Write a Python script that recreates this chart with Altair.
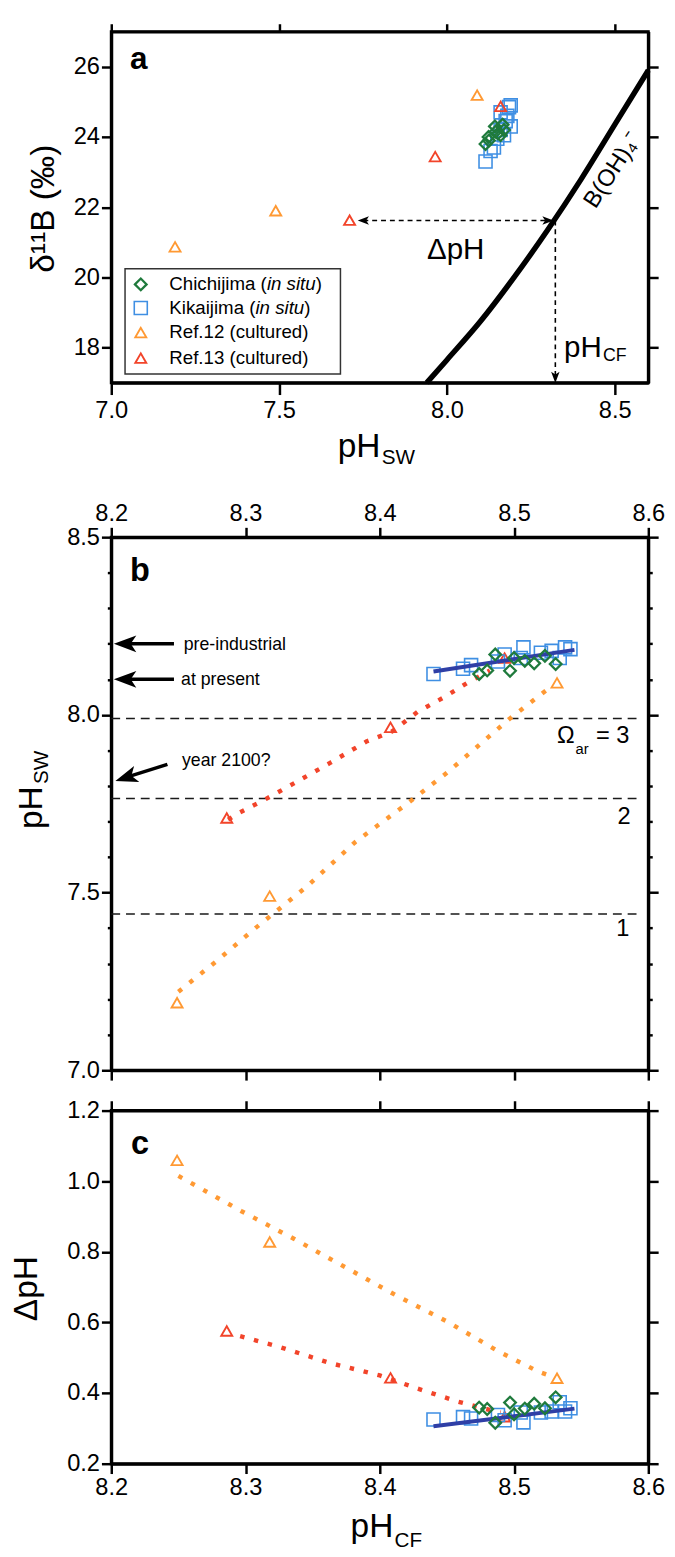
import altair as alt
import pandas as pd

# ---------------- data ----------------
# panel a: borate curve
curve_ph = [7.94, 8.00, 8.10, 8.20, 8.30, 8.40, 8.50, 8.60]
curve_d11b = [17.0, 17.65, 18.75, 20.0, 21.35, 22.8, 24.35, 25.9]

# cultured corals
ref12_phsw = [7.19, 7.49, 8.09]
ref12_d11b = [20.87, 21.90, 25.19]
ref12_phcf = [8.249, 8.318, 8.532]

ref13_phsw = [7.71, 7.965, 8.16]
ref13_d11b = [21.63, 23.44, 24.87]
ref13_phcf = [8.286, 8.408, 8.493]

# in situ corals
kik_phsw = [8.115, 8.130, 8.140, 8.150, 8.170, 8.160, 8.190, 8.175, 8.180, 8.160, 8.185, 8.190]
kik_phcf = [8.440, 8.462, 8.468, 8.488, 8.493, 8.505, 8.507, 8.520, 8.528, 8.534, 8.542, 8.538]
kik_d11b = [23.30, 23.60, 23.70, 23.95, 24.05, 24.20, 24.30, 24.45, 24.60, 24.70, 24.85, 24.90]

chi_phsw = [8.115, 8.125, 8.170, 8.124, 8.152, 8.145, 8.166, 8.143, 8.160]
chi_phcf = [8.474, 8.480, 8.486, 8.497, 8.508, 8.515, 8.523, 8.531, 8.500]
chi_d11b = [23.80, 23.90, 24.20, 24.00, 24.10, 24.15, 24.35, 24.30, 24.05]

# panel b dotted model lines
b_orange_x = [8.250, 8.278, 8.307, 8.345, 8.382, 8.420, 8.450, 8.477, 8.497, 8.527]
b_orange_y = [7.221, 7.306, 7.399, 7.515, 7.643, 7.749, 7.837, 7.925, 7.990, 8.078]
b_red_x = [8.287, 8.296, 8.315, 8.335, 8.363, 8.390, 8.409, 8.428, 8.448, 8.466, 8.482]
b_red_y = [7.705, 7.726, 7.763, 7.805, 7.865, 7.925, 7.953, 8.008, 8.050, 8.092, 8.125]
# panel c dotted model lines
c_orange_x = [8.250, 8.297, 8.336, 8.374, 8.412, 8.450, 8.488, 8.518, 8.526]
c_orange_y = [1.015, 0.915, 0.837, 0.757, 0.677, 0.603, 0.519, 0.461, 0.450]
c_red_x = [8.296, 8.325, 8.363, 8.400, 8.428, 8.458, 8.477, 8.490]
c_red_y = [0.561, 0.531, 0.485, 0.450, 0.413, 0.376, 0.357, 0.345]
# regression lines (in situ)
fit_x = [8.44, 8.545]
fit_b_y = [8.122, 8.183]
fit_c_y = [0.306, 0.356]
# saturation state levels
omega_y = [7.99, 7.765, 7.44]
omega_x = [8.2, 8.593]

# ---------------- style ----------------
W = 546
HA, HB, HC = 357, 542, 359
FONT = "Liberation Sans"
ORANGE = "#ff9933"
RED = "#f2442a"
GREEN = "#1f7a3c"
BLUE_SQ = "#3f8fe3"
BLUE_LINE = "#2f3fa6"
ARROW = "M -1 0 L 1 -0.75 L 0.5 0 L 1 0.75 Z"
TEST = "abs(datum.value*2 - round(datum.value*2)) < 0.001"


def sc(lo, hi):
    return alt.Scale(domain=[lo, hi], nice=False, zero=False)


SAX, SAY = sc(7.0, 8.6), sc(17, 27)
SBX, SBY, SCY = sc(8.2, 8.6), sc(7.0, 8.5), sc(0.2, 1.2)


def axis(orient, values, labels=True, fmt=".1f", tick=10, pad=3, **kw):
    d = dict(orient=orient, values=values, labels=labels, format=fmt, tickSize=tick,
             tickWidth=2.5, tickColor="black", domainWidth=3, domainColor="black",
             labelFont=FONT, labelFontSize=24, labelColor="black", labelPadding=pad,
             grid=False, title=None, labelFlush=False, labelOverlap=False)
    d.update(kw)
    return alt.Axis(**d)


def X(f, s, ax=None):
    return alt.X(f, type="quantitative", scale=s, axis=ax)


def Y(f, s, ax=None):
    return alt.Y(f, type="quantitative", scale=s, axis=ax)


def ptext(t, x, y, size, **kw):
    props = dict(font=FONT, fontSize=size, color="black")
    props.update(kw)
    return alt.Chart(pd.DataFrame({"t": [t]})).mark_text(**props).encode(
        x=alt.value(x), y=alt.value(y), text="t:N")


def dtext(t, x, y, sx, sy, size, **kw):
    props = dict(font=FONT, fontSize=size, color="black")
    props.update(kw)
    return alt.Chart(pd.DataFrame({"t": [t], "x": [x], "y": [y]})).mark_text(**props).encode(
        x=X("x", sx), y=Y("y", sy), text="t:N")


rows = []
for g, sw, cf, dd in [("kik", kik_phsw, kik_phcf, kik_d11b), ("chi", chi_phsw, chi_phcf, chi_d11b),
                      ("r12", ref12_phsw, ref12_phcf, ref12_d11b), ("r13", ref13_phsw, ref13_phcf, ref13_d11b)]:
    for a, b, c in zip(sw, cf, dd):
        rows.append(dict(group=g, phsw=a, phcf=b, d11b=c))
samples = pd.DataFrame(rows)

STYLE = {
    "kik": dict(shape="square", size=175, strokeWidth=1.6, color=BLUE_SQ),
    "chi": dict(shape="diamond", size=140, strokeWidth=2.3, color=GREEN),
    "r12": dict(shape="triangle-up", size=125, strokeWidth=1.9, color=ORANGE),
    "r13": dict(shape="triangle-up", size=125, strokeWidth=1.9, color=RED),
}


def pts(group, xf, yf, sx, sy, calc=False):
    base = alt.Chart(samples).transform_filter(alt.datum.group == group)
    if calc:
        base = base.transform_calculate(dph="datum.phcf - datum.phsw")
    m = base.mark_point(filled=False, opacity=1, **STYLE[group])
    return m.encode(x=X(xf, sx), y=Y(yf, sy))


def legend_sym(group, x, y):
    return alt.Chart(pd.DataFrame({"a": [0]})).mark_point(filled=False, opacity=1, **STYLE[group]).encode(
        x=alt.value(x), y=alt.value(y))


def dotted(xs, ys, sx, sy, color):
    return alt.Chart(pd.DataFrame({"x": xs, "y": ys, "o": list(range(len(xs)))})).mark_line(
        strokeDash=[4.5, 10], strokeWidth=4.5, strokeCap="butt", color=color).encode(
        x=X("x", sx), y=Y("y", sy), order="o:Q")


# ---------------- panel a ----------------
a_curve = alt.Chart(pd.DataFrame({"ph": curve_ph, "d": curve_d11b})).mark_line(
    color="black", strokeWidth=5.5, interpolate="monotone").encode(
    x=X("ph", SAX, axis("bottom", [7.0, 7.5, 8.0, 8.5], tick=12, pad=4)),
    y=Y("d", SAY, axis("left", [18, 20, 22, 24, 26], fmt="d", pad=2)))
a_frame = alt.Chart(pd.DataFrame({"x": [7.5], "y": [20.0]})).mark_point(opacity=0).encode(
    x=X("x", SAX, axis("top", [7.0, 7.5, 8.0, 8.5], labels=False, tick=8)),
    y=Y("y", SAY, axis("right", [18, 20, 22, 24, 26], labels=False)))

a_shafts = alt.Chart(pd.DataFrame({"x": [7.751, 8.323], "x2": [8.301, 8.323],
                                   "y": [21.62, 21.62], "y2": [21.62, 17.154]})).mark_rule(
    strokeDash=[5, 4], strokeWidth=1.6, color="black").encode(
    x=X("x", SAX), x2="x2:Q", y=Y("y", SAY), y2="y2:Q")
a_heads = alt.Chart(pd.DataFrame({"x": [7.751, 8.301, 8.323], "y": [21.62, 21.62, 17.154],
                                  "ang": [0, 180, 270]})).mark_point(
    shape=ARROW, filled=True, size=130, color="black", opacity=1, strokeWidth=0).encode(
    x=X("x", SAX), y=Y("y", SAY), angle=alt.Angle("ang:Q", scale=None))

LX, LY = 59, [257, 281, 306, 332]
a_legend = [
    alt.Chart(pd.DataFrame({"a": [0]})).mark_rect(fill="white", stroke="#333333", strokeWidth=1.5).encode(
        x=alt.value(14), x2=alt.value(233), y=alt.value(241), y2=alt.value(348)),
    legend_sym("chi", 30, LY[0]), legend_sym("kik", 30, LY[1]),
    legend_sym("r12", 30, LY[2]), legend_sym("r13", 30, LY[3]),
    ptext("Chichijima (", LX, LY[0], 19, align="left"),
    ptext("in situ", LX + 99.2, LY[0], 19, align="left", fontStyle="italic"),
    ptext(")", LX + 148.8, LY[0], 19, align="left"),
    ptext("Kikaijima (", LX, LY[1], 19, align="left"),
    ptext("in situ", LX + 87.6, LY[1], 19, align="left", fontStyle="italic"),
    ptext(")", LX + 137.2, LY[1], 19, align="left"),
    ptext("Ref.12 (cultured)", LX, LY[2], 19, align="left"),
    ptext("Ref.13 (cultured)", LX, LY[3], 19, align="left"),
]

a_texts = [
    ptext("a", 19, 38, 32, align="left", baseline="alphabetic", fontWeight="bold"),
    dtext("ΔpH", 8.026, 20.77, SAX, SAY, 30),
    dtext("pH", 8.349, 17.98, SAX, SAY, 30, align="left"),
    dtext("CF", 8.465, 17.76, SAX, SAY, 18, align="left"),
    dtext("B(OH)₄⁻", 8.494, 23.05, SAX, SAY, 24, angle=303),
    ptext("δ¹¹B (‰)", -68, 180, 34, angle=270),
    ptext("pH", 252, 422, 34),
    ptext("SW", 275, 434, 21, align="left"),
    alt.Chart(pd.DataFrame({"a": [0]})).mark_point(opacity=0).encode(x=alt.value(5), y=alt.value(458)),
]

panel_a = alt.layer(
    a_curve, a_frame, a_shafts, a_heads,
    pts("kik", "phsw", "d11b", SAX, SAY), pts("chi", "phsw", "d11b", SAX, SAY),
    pts("r12", "phsw", "d11b", SAX, SAY), pts("r13", "phsw", "d11b", SAX, SAY),
    *a_legend, *a_texts,
).resolve_axis(x="independent", y="independent").properties(width=W, height=HA)

# ---------------- panel b ----------------
vals_b = [7.0, 7.1, 7.2, 7.3, 7.4, 7.5, 7.6, 7.7, 7.8, 7.9, 8.0, 8.1, 8.2, 8.3, 8.4, 8.5]
vals_x = [8.2, 8.3, 8.4, 8.5, 8.6]
tick_b = {"condition": {"test": TEST, "value": 10}, "value": 4}
b_frame1 = alt.Chart(pd.DataFrame({"x": [8.3], "y": [7.5]})).mark_point(opacity=0).encode(
    x=X("x", SBX, axis("top", vals_x, pad=2)),
    y=Y("y", SBY, axis("left", vals_b, pad=2, tickSize=tick_b,
                      labelExpr=TEST + " ? format(datum.value, '.1f') : ''")))
b_frame2 = alt.Chart(pd.DataFrame({"x": [8.3], "y": [7.5]})).mark_point(opacity=0).encode(
    x=X("x", SBX, axis("bottom", vals_x, labels=False)),
    y=Y("y", SBY, axis("right", vals_b, labels=False, tickSize=tick_b)))

b_omega = alt.Chart(pd.DataFrame({"y": omega_y, "x": [omega_x[0]] * 3, "x2": [omega_x[1]] * 3})).mark_rule(
    strokeDash=[9, 6], strokeWidth=1.5, color="#1a1a1a").encode(x=X("x", SBX), x2="x2:Q", y=Y("y", SBY))

b_shafts = alt.Chart(pd.DataFrame({"x": [8.2103, 8.2103, 8.211], "x2": [8.2467, 8.2467, 8.2418],
                                   "y": [8.2, 8.1, 7.824], "y2": [8.2, 8.1, 7.861]})).mark_rule(
    strokeWidth=3.5, color="black").encode(x=X("x", SBX), x2="x2:Q", y=Y("y", SBY), y2="y2:Q")
b_heads = alt.Chart(pd.DataFrame({"x": [8.2103, 8.2103, 8.211], "y": [8.2, 8.1, 7.824],
                                  "ang": [0, 0, 342]})).mark_point(
    shape=ARROW, filled=True, size=520, color="black", opacity=1, strokeWidth=0).encode(
    x=X("x", SBX), y=Y("y", SBY), angle=alt.Angle("ang:Q", scale=None))

b_fit = alt.Chart(pd.DataFrame({"x": fit_x, "y": fit_b_y})).mark_line(
    color=BLUE_LINE, strokeWidth=4).encode(x=X("x", SBX), y=Y("y", SBY))

b_texts = [
    ptext("b", 19, 45, 33, align="left", baseline="alphabetic", fontWeight="bold"),
    dtext("pre-industrial", 8.254, 8.196, SBX, SBY, 18, align="left"),
    dtext("at present", 8.252, 8.098, SBX, SBY, 18, align="left"),
    dtext("year 2100?", 8.2527, 7.869, SBX, SBY, 18, align="left"),
    dtext("Ω", 8.532, 7.94, SBX, SBY, 24, align="left"),
    dtext("ar", 8.5458, 7.905, SBX, SBY, 15, align="left"),
    dtext("= 3", 8.561, 7.94, SBX, SBY, 24, align="left"),
    dtext("2", 8.582, 7.711, SBX, SBY, 24),
    dtext("1", 8.581, 7.397, SBX, SBY, 24),
    ptext("pH", -80, 275, 34, angle=270),
    ptext("SW", -70, 234, 21, angle=270),
]

panel_b = alt.layer(
    b_frame1, b_frame2, b_omega,
    dotted(b_orange_x, b_orange_y, SBX, SBY, ORANGE), dotted(b_red_x, b_red_y, SBX, SBY, RED),
    pts("r12", "phcf", "phsw", SBX, SBY), pts("r13", "phcf", "phsw", SBX, SBY),
    pts("kik", "phcf", "phsw", SBX, SBY), b_fit, pts("chi", "phcf", "phsw", SBX, SBY),
    b_shafts, b_heads, *b_texts,
).resolve_axis(x="independent", y="independent").properties(width=W, height=HB)

# ---------------- panel c ----------------
vals_c = [0.2, 0.4, 0.6, 0.8, 1.0, 1.2]
c_frame1 = alt.Chart(pd.DataFrame({"x": [8.3], "y": [0.5]})).mark_point(opacity=0).encode(
    x=X("x", SBX, axis("bottom", vals_x, pad=2)),
    y=Y("y", SCY, axis("left", vals_c, pad=2)))
c_frame2 = alt.Chart(pd.DataFrame({"x": [8.3], "y": [0.5]})).mark_point(opacity=0).encode(
    x=X("x", SBX, axis("top", vals_x, labels=False)),
    y=Y("y", SCY, axis("right", vals_c, labels=False)))
c_fit = alt.Chart(pd.DataFrame({"x": fit_x, "y": fit_c_y})).mark_line(
    color=BLUE_LINE, strokeWidth=4).encode(x=X("x", SBX), y=Y("y", SCY))

c_texts = [
    ptext("c", 20, 44, 33, align="left", baseline="alphabetic", fontWeight="bold"),
    ptext("ΔpH", -86, 181, 34, angle=270),
    ptext("pH", 265, 424, 34),
    ptext("CF", 288, 438, 21, align="left"),
]

panel_c = alt.layer(
    c_frame1, c_frame2,
    dotted(c_orange_x, c_orange_y, SBX, SCY, ORANGE), dotted(c_red_x, c_red_y, SBX, SCY, RED),
    pts("r12", "phcf", "dph", SBX, SCY, True), pts("r13", "phcf", "dph", SBX, SCY, True),
    pts("kik", "phcf", "dph", SBX, SCY, True), c_fit, pts("chi", "phcf", "dph", SBX, SCY, True),
    *c_texts,
).resolve_axis(x="independent", y="independent").properties(width=W, height=HC)

chart = alt.vconcat(panel_a, panel_b, panel_c, spacing=13).properties(
    padding={"left": 0, "top": 0, "right": 0, "bottom": 0}
).configure_view(stroke="black", strokeWidth=3)

chart.save("out.html", embed_options={"renderer": "svg", "actions": False})
